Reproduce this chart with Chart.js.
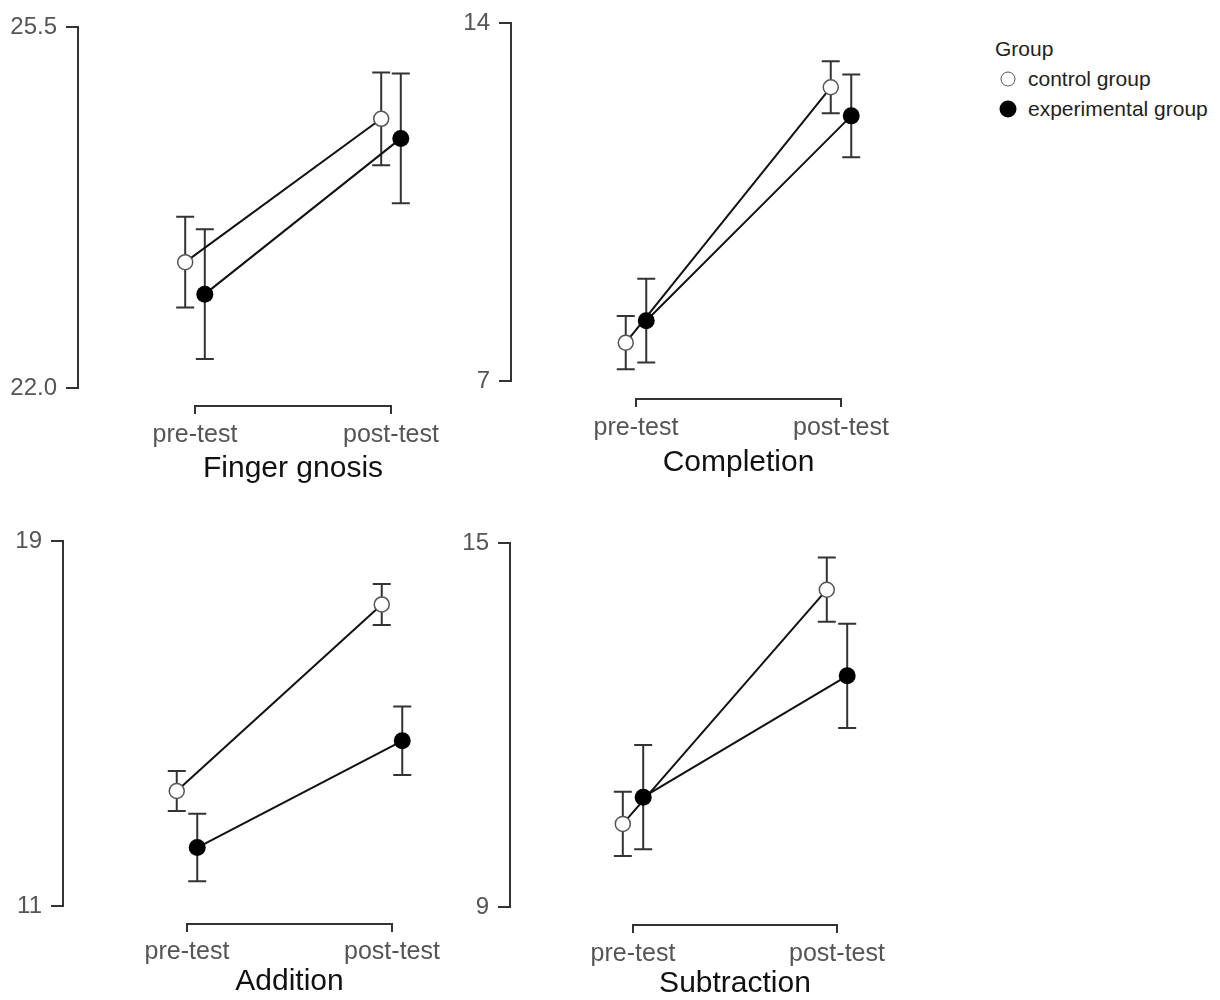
<!DOCTYPE html>
<html>
<head>
<meta charset="utf-8">
<title>Pre-test and post-test scores by group</title>
<script src="https://cdn.jsdelivr.net/npm/chart.js@4.4.0/dist/chart.umd.min.js"></script>
<style>
  body { margin: 0; background: #fff; font-family: "Liberation Sans", Arial, sans-serif; }
  #page { position: relative; width: 1220px; height: 1000px; overflow: hidden; background: #fff; }
  #page canvas { position: absolute; }
  #legend { position: absolute; left: 995px; top: 34px; font-size: 21px; color: #222; line-height: 30px; }
  #legend .row { position: relative; padding-left: 33px; white-space: nowrap; }
  #legend .mark { position: absolute; left: 13px; top: 15px; border-radius: 50%; transform: translate(-50%, -50%); box-sizing: border-box; }
  #legend .control { width: 15px; height: 15px; background: #fff; border: 1.5px solid #555; }
  #legend .experimental { width: 17px; height: 17px; background: #000; }
</style>
</head>
<body>
<div id="page">
  <div id="legend">
    <div>Group</div>
    <div class="row"><span class="mark control"></span>control group</div>
    <div class="row"><span class="mark experimental"></span>experimental group</div>
  </div>
</div>
<script>
const timePoints = ['pre-test', 'post-test'];
const groupNames = ['control group', 'experimental group'];
const taskNames = ['Finger gnosis', 'Completion', 'Addition', 'Subtraction'];

const yMins = [22.0, 7, 11, 9];
const yMaxs = [25.5, 14, 19, 15];
const tickDecimals = [1, 0, 0, 0];

// [pre-test, post-test] for each task
const controlMeans = [[23.22, 24.61], [7.75, 12.75], [13.52, 17.61], [10.37, 14.23]];
const controlErrors = [[0.44, 0.45], [0.52, 0.51], [0.44, 0.45], [0.53, 0.53]];
const experimentalMeans = [[22.91, 24.42], [8.18, 12.19], [12.28, 14.62], [10.81, 12.81]];
const experimentalErrors = [[0.63, 0.63], [0.82, 0.81], [0.74, 0.75], [0.86, 0.86]];

const FONT = '"Liberation Sans", Arial, sans-serif';
const DODGE = 0.05;

// where each small chart sits on the page
const panelLayout = [
    { left: 0, top: 0, axisX: 78, chartTop: 27, chartBottom: 388, preX: 195, postX: 391, labelY: 435, titleY: 469 },
    { left: 450, top: 0, axisX: 511, chartTop: 20, chartBottom: 381, preX: 636, postX: 841, labelY: 428, titleY: 463 },
    { left: 0, top: 500, axisX: 63, chartTop: 541, chartBottom: 906, preX: 187, postX: 392, labelY: 952, titleY: 982 },
    { left: 450, top: 500, axisX: 510, chartTop: 543, chartBottom: 907, preX: 633, postX: 837, labelY: 954, titleY: 984 }
];

const errorBarPlugin = {
    id: 'errorBars',
    beforeDatasetsDraw(chart) {
        const ctx = chart.ctx;
        const yScale = chart.scales.y;
        ctx.save();
        ctx.strokeStyle = '#333';
        ctx.lineWidth = 2;
        chart.data.datasets.forEach((ds, i) => {
            const meta = chart.getDatasetMeta(i);
            meta.data.forEach((pt, j) => {
                const mean = ds.data[j].y;
                const err = ds.errors[j];
                const yTop = yScale.getPixelForValue(mean + err);
                const yBot = yScale.getPixelForValue(mean - err);
                ctx.beginPath();
                ctx.moveTo(pt.x, yTop);
                ctx.lineTo(pt.x, yBot);
                ctx.moveTo(pt.x - 9, yTop);
                ctx.lineTo(pt.x + 9, yTop);
                ctx.moveTo(pt.x - 9, yBot);
                ctx.lineTo(pt.x + 9, yBot);
                ctx.stroke();
            });
        });
        ctx.restore();
    }
};

// x axis drawn as a bracket between the first and last category
const bracketPlugin = {
    id: 'bracketAxis',
    afterDraw(chart) {
        const ctx = chart.ctx;
        const xScale = chart.scales.x;
        const x1 = xScale.getPixelForValue(1);
        const x2 = xScale.getPixelForValue(timePoints.length);
        const y = chart.chartArea.bottom + 18;
        ctx.save();
        ctx.strokeStyle = '#333';
        ctx.lineWidth = 2;
        ctx.beginPath();
        ctx.moveTo(x1, y + 8);
        ctx.lineTo(x1, y);
        ctx.lineTo(x2, y);
        ctx.lineTo(x2, y + 8);
        ctx.stroke();
        ctx.restore();
    }
};

function makePanel(i) {
    const p = panelLayout[i];
    const unit = p.postX - p.preX;
    const right = p.preX + p.postX - p.axisX;
    const width = right - p.left + 2;
    const height = p.titleY + 18 + 4 - p.top;
    const xAxisHeight = height - (p.chartBottom - p.top);

    const canvas = document.createElement('canvas');
    canvas.width = width;
    canvas.height = height;
    canvas.style.left = p.left + 'px';
    canvas.style.top = p.top + 'px';
    document.getElementById('page').appendChild(canvas);

    const controlData = timePoints.map((t, k) => ({ x: k + 1 - DODGE, y: controlMeans[i][k] }));
    const experimentalData = timePoints.map((t, k) => ({ x: k + 1 + DODGE, y: experimentalMeans[i][k] }));

    new Chart(canvas, {
        type: 'line',
        data: {
            datasets: [{
                label: groupNames[0],
                data: controlData,
                errors: controlErrors[i],
                order: 2,
                borderColor: '#111',
                borderWidth: 2,
                tension: 0,
                pointRadius: 7.5,
                pointBackgroundColor: '#fff',
                pointBorderColor: '#555',
                pointBorderWidth: 1.5
            }, {
                label: groupNames[1],
                data: experimentalData,
                errors: experimentalErrors[i],
                order: 1,
                borderColor: '#111',
                borderWidth: 2,
                tension: 0,
                pointRadius: 8.5,
                pointBackgroundColor: '#000',
                pointBorderColor: '#000',
                pointBorderWidth: 0
            }]
        },
        options: {
            responsive: false,
            animation: false,
            events: [],
            layout: {
                autoPadding: false,
                padding: { left: 0, top: p.chartTop - p.top, right: 2, bottom: 0 }
            },
            plugins: {
                legend: { display: false },
                tooltip: { enabled: false }
            },
            scales: {
                x: {
                    type: 'linear',
                    min: 1 - (p.preX - p.axisX) / unit,
                    max: 2 + (right - p.postX) / unit,
                    afterBuildTicks: s => { s.ticks = timePoints.map((t, k) => ({ value: k + 1 })); },
                    afterFit: s => { s.height = xAxisHeight; },
                    grid: { display: false, drawTicks: false },
                    border: { display: false },
                    ticks: {
                        padding: p.labelY - p.chartBottom - 15,
                        color: '#555',
                        font: { size: 25, family: FONT },
                        maxRotation: 0,
                        autoSkip: false,
                        callback: v => timePoints[v - 1]
                    },
                    title: {
                        display: true,
                        text: taskNames[i],
                        color: '#111',
                        font: { size: 30, family: FONT },
                        padding: { top: 0, bottom: 4 }
                    }
                },
                y: {
                    min: yMins[i],
                    max: yMaxs[i],
                    afterBuildTicks: s => { s.ticks = [{ value: yMins[i] }, { value: yMaxs[i] }]; },
                    afterFit: s => { s.width = p.axisX - p.left; },
                    grid: { drawOnChartArea: false, drawTicks: true, tickLength: 12, color: '#333', lineWidth: 2 },
                    border: { display: true, color: '#333', width: 2 },
                    ticks: {
                        padding: 9,
                        color: '#555',
                        font: { size: 24, family: FONT },
                        callback: v => v.toFixed(tickDecimals[i])
                    }
                }
            }
        },
        plugins: [errorBarPlugin, bracketPlugin]
    });
}

document.addEventListener('DOMContentLoaded', function() {
    taskNames.forEach((name, i) => makePanel(i));
});
</script>
</body>
</html>
